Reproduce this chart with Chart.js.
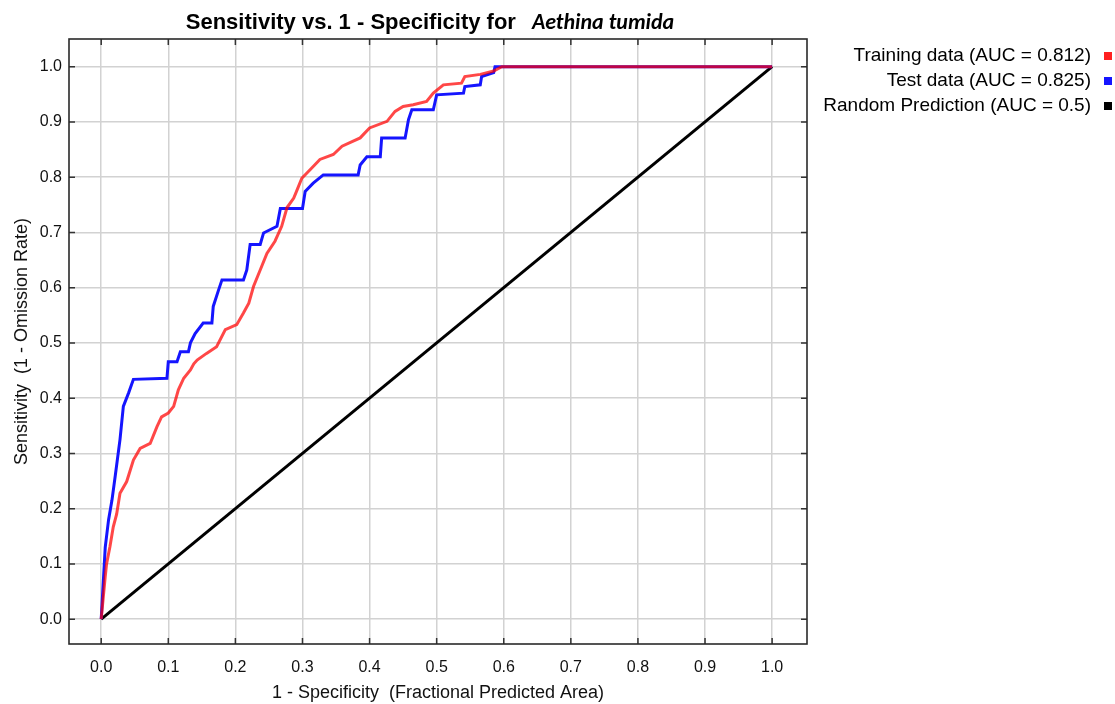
<!DOCTYPE html>
<html>
<head>
<meta charset="utf-8">
<script src="https://cdn.jsdelivr.net/npm/chart.js@4/dist/chart.umd.min.js"></script>
<style>
  html, body { margin: 0; padding: 0; background: #fff; }
  #wrap { width: 1115px; height: 704px; position: relative; }
</style>
</head>
<body>
<div id="wrap"><canvas id="c"></canvas></div>
<script>
// ---- Data ----
const tickValues = [0.0, 0.1, 0.2, 0.3, 0.4, 0.5, 0.6, 0.7, 0.8, 0.9, 1.0];

const trainFpr = [0, 0.006, 0.008, 0.013, 0.018, 0.023, 0.028, 0.038, 0.048, 0.058, 0.073, 0.083, 0.090, 0.100, 0.108, 0.115, 0.123, 0.133, 0.138, 0.143, 0.157, 0.172, 0.185, 0.202, 0.212, 0.220, 0.227, 0.237, 0.247, 0.259, 0.269, 0.277, 0.287, 0.292, 0.299, 0.311, 0.326, 0.346, 0.359, 0.386, 0.400, 0.426, 0.438, 0.450, 0.465, 0.485, 0.495, 0.510, 0.537, 0.542, 0.565, 0.585, 0.597, 1.0];
const trainTpr = [0, 0.077, 0.100, 0.131, 0.167, 0.190, 0.228, 0.249, 0.288, 0.309, 0.318, 0.348, 0.366, 0.373, 0.385, 0.415, 0.436, 0.451, 0.462, 0.469, 0.481, 0.493, 0.524, 0.533, 0.554, 0.572, 0.602, 0.632, 0.662, 0.684, 0.711, 0.745, 0.762, 0.777, 0.798, 0.813, 0.832, 0.841, 0.856, 0.871, 0.889, 0.901, 0.919, 0.928, 0.931, 0.937, 0.952, 0.967, 0.970, 0.982, 0.986, 0.992, 1.0, 1.0];

const testFpr = [0, 0.006, 0.011, 0.016, 0.021, 0.028, 0.033, 0.041, 0.048, 0.098, 0.100, 0.113, 0.118, 0.130, 0.133, 0.140, 0.152, 0.165, 0.167, 0.175, 0.180, 0.212, 0.217, 0.222, 0.237, 0.242, 0.262, 0.267, 0.300, 0.304, 0.316, 0.331, 0.383, 0.386, 0.396, 0.416, 0.418, 0.453, 0.458, 0.463, 0.495, 0.500, 0.540, 0.542, 0.565, 0.567, 0.585, 0.587, 1.0];
const testTpr = [0, 0.130, 0.180, 0.215, 0.260, 0.325, 0.385, 0.410, 0.434, 0.436, 0.466, 0.466, 0.484, 0.484, 0.500, 0.517, 0.536, 0.536, 0.566, 0.596, 0.614, 0.614, 0.632, 0.678, 0.678, 0.699, 0.711, 0.743, 0.743, 0.774, 0.789, 0.804, 0.804, 0.822, 0.837, 0.837, 0.871, 0.871, 0.904, 0.922, 0.922, 0.949, 0.952, 0.964, 0.967, 0.982, 0.989, 1.0, 1.0];

const randomFpr = [0, 1];
const randomTpr = [0, 1];

const seriesNames = ['Training data (AUC = 0.812)', 'Test data (AUC = 0.825)', 'Random Prediction (AUC = 0.5)'];
const seriesColors = ['rgba(255,0,0,0.72)', '#1515ff', '#000000'];
const legendSwatch = ['#ff2020', '#1515ff', '#000000'];

const toPts = (xs, ys) => xs.map((x, i) => ({ x: x, y: ys[i] }));

const FONT = '"Liberation Sans", Arial, sans-serif';

// Frame, inner ticks, title and legend plugin
const decor = {
  id: 'decor',
  afterDatasetsDraw(chart) {
    const { ctx, chartArea: a, scales } = chart;
    ctx.save();
    ctx.strokeStyle = '#333';
    ctx.lineWidth = 1.5;
    const tl = 6;
    tickValues.forEach(v => {
      const px = scales.x.getPixelForValue(v);
      const py = scales.y.getPixelForValue(v);
      ctx.beginPath();
      ctx.moveTo(px, a.bottom); ctx.lineTo(px, a.bottom - tl);
      ctx.moveTo(px, a.top); ctx.lineTo(px, a.top + tl);
      ctx.moveTo(a.left, py); ctx.lineTo(a.left + tl, py);
      ctx.moveTo(a.right, py); ctx.lineTo(a.right - tl, py);
      ctx.stroke();
    });
    ctx.strokeStyle = '#2a2a2a';
    ctx.lineWidth = 1.6;
    ctx.strokeRect(a.left, a.top, a.right - a.left, a.bottom - a.top);
    ctx.restore();
  },
  afterDraw(chart) {
    const { ctx } = chart;
    ctx.save();
    const part1 = 'Sensitivity vs. 1 - Specificity for';
    const part2 = 'Aethina tumida';
    const f1 = 'bold 22px ' + FONT;
    const f2 = 'italic bold 22px Carlito, "Open Sans", ' + FONT;
    ctx.font = f1; const w1 = ctx.measureText(part1).width;
    ctx.font = f2; const w2 = ctx.measureText(part2).width;
    const gap = 16;
    const total = w1 + gap + w2;
    const cx = 430;
    const x0 = cx - total / 2;
    ctx.fillStyle = '#000';
    ctx.textBaseline = 'alphabetic';
    ctx.textAlign = 'left';
    ctx.font = f1; ctx.fillText(part1, x0, 29);
    ctx.font = f2; ctx.fillText(part2, x0 + w1 + gap, 29);

    ctx.font = '19px ' + FONT;
    ctx.textAlign = 'right';
    ctx.textBaseline = 'middle';
    const ys = [56, 81, 106];
    seriesNames.forEach((name, i) => {
      ctx.fillStyle = '#000';
      ctx.fillText(name, 1091, ys[i]);
      ctx.fillStyle = legendSwatch[i];
      ctx.fillRect(1104, ys[i] - 4, 8, 8);
    });
    ctx.restore();
  }
};

new Chart(document.getElementById('c'), {
  type: 'line',
  data: {
    datasets: [
      { label: seriesNames[0], data: toPts(trainFpr, trainTpr), borderColor: seriesColors[0], borderWidth: 3, pointRadius: 0, tension: 0, fill: false, order: 0 },
      { label: seriesNames[1], data: toPts(testFpr, testTpr), borderColor: seriesColors[1], borderWidth: 3, pointRadius: 0, tension: 0, fill: false, order: 1 },
      { label: seriesNames[2], data: toPts(randomFpr, randomTpr), borderColor: seriesColors[2], borderWidth: 3, pointRadius: 0, tension: 0, fill: false, order: 2 }
    ]
  },
  options: {
    responsive: true,
    maintainAspectRatio: false,
    animation: false,
    layout: { padding: { left: 0, top: 39, right: 308, bottom: 0 } },
    plugins: {
      legend: { display: false },
      title: { display: false },
      tooltip: { enabled: false }
    },
    scales: {
      x: {
        type: 'linear',
        min: -0.048, max: 1.052,
        afterBuildTicks: s => { s.ticks = tickValues.map(v => ({ value: v })); },
        afterFit: s => { s.height = 60; },
        grid: { color: '#d2d2d2', lineWidth: 1.5, drawTicks: false },
        border: { display: false },
        ticks: { padding: 14, color: '#111', font: { family: FONT, size: 16 }, callback: v => Number(v).toFixed(1), maxRotation: 0, autoSkip: false },
        title: { display: true, text: '1 - Specificity  (Fractional Predicted Area)', color: '#111', font: { family: FONT, size: 18 }, padding: { top: 2, bottom: 0 } }
      },
      y: {
        type: 'linear',
        min: -0.045, max: 1.05,
        afterBuildTicks: s => { s.ticks = tickValues.map(v => ({ value: v })); },
        afterFit: s => { s.width = 69; },
        grid: { color: '#d2d2d2', lineWidth: 1.5, drawTicks: false },
        border: { display: false },
        ticks: { padding: 7, color: '#111', font: { family: FONT, size: 16 }, callback: v => Number(v).toFixed(1), autoSkip: false },
        title: { display: true, text: 'Sensitivity  (1 - Omission Rate)', color: '#111', font: { family: FONT, size: 18 }, padding: { top: 11, bottom: 0 } }
      }
    }
  },
  plugins: [decor]
});
</script>
</body>
</html>
